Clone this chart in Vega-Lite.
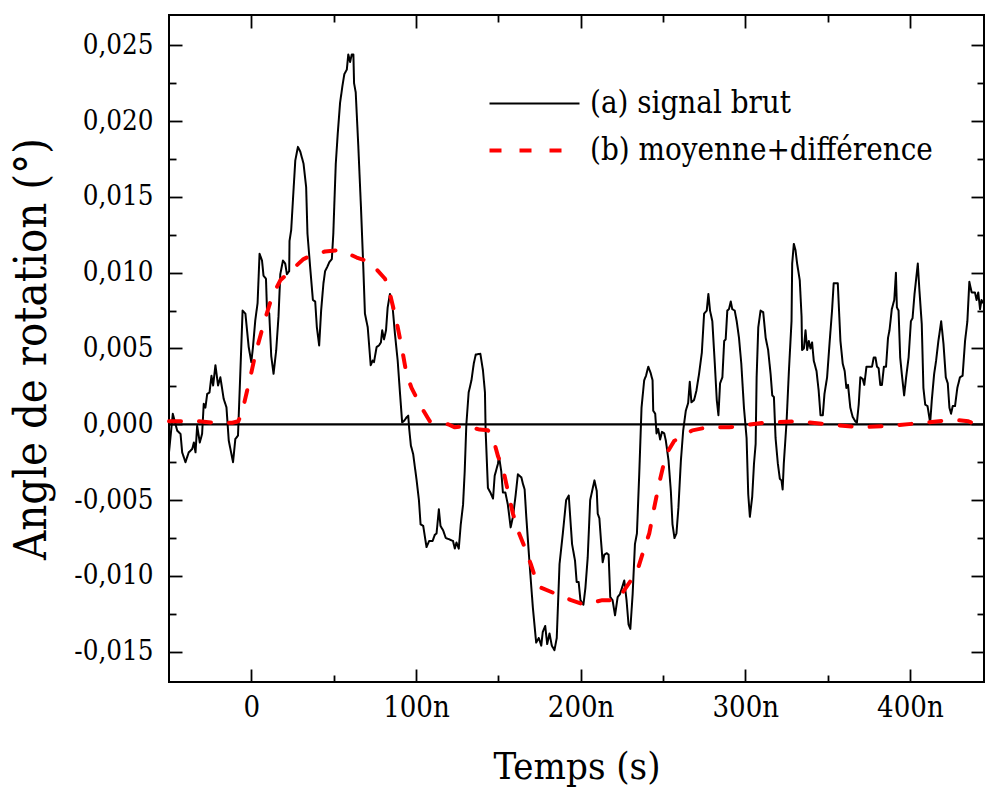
{
  "$schema": "https://vega.github.io/schema/vega-lite/v6.json",
  "width": 815,
  "height": 667,
  "autosize": {"type": "none"},
  "padding": {"left": 169, "top": 15, "right": 1, "bottom": 106},
  "background": "white",
  "config": {
    "view": {"stroke": "black", "strokeWidth": 2},
    "font": "DejaVu Serif Condensed, DejaVu Serif",
    "axis": {"grid": false, "domain": false, "tickColor": "black", "tickWidth": 1.8, "labelFont": "DejaVu Serif Condensed, DejaVu Serif", "labelColor": "black", "titleFont": "DejaVu Serif Condensed, DejaVu Serif", "titleColor": "black", "titleFontWeight": "normal", "labelOverlap": false, "labelFlush": false},
    "legend": {"labelFont": "DejaVu Serif Condensed, DejaVu Serif", "labelLimit": 0}
  },
  "datasets": {
    "a": [
      {"t":-50,"v":-0.00185},{"t":-47.7,"v":0.00069},{"t":-45.0,"v":-0.00042},{"t":-43.0,"v":-0.00063},{"t":-42.0,"v":-0.00185},{"t":-40.0,"v":-0.0025},{"t":-38.0,"v":-0.00185},{"t":-35.9,"v":-0.00163},{"t":-34.9,"v":-0.0012},{"t":-33.9,"v":-0.00185},{"t":-32.9,"v":-0.0001},{"t":-31.3,"v":-0.0012},{"t":-29.9,"v":-0.00063},{"t":-28.9,"v":0.00135},{"t":-27.9,"v":0.0011},{"t":-26.8,"v":0.002},{"t":-25.4,"v":0.0021},{"t":-24.2,"v":0.0032},{"t":-23.2,"v":0.00256},{"t":-21.8,"v":0.0039},{"t":-20.2,"v":0.00256},{"t":-18.8,"v":0.0031},{"t":-16.8,"v":0.00168},{"t":-15.1,"v":0.00112},{"t":-13.7,"v":-0.00108},{"t":-11.1,"v":-0.0025},{"t":-9.7,"v":-0.00096},{"t":-8.1,"v":-0.00075},{"t":-6.7,"v":0.00333},{"t":-5.3,"v":0.0075},{"t":-3.6,"v":0.0073},{"t":-1.6,"v":0.0051},{"t":0,"v":0.0041},{"t":1.0,"v":0.0051},{"t":2.4,"v":0.00685},{"t":3.8,"v":0.008},{"t":5.0,"v":0.01125},{"t":6.5,"v":0.0108},{"t":7.4,"v":0.0098},{"t":8.9,"v":0.0096},{"t":9.5,"v":0.0076},{"t":10.9,"v":0.0073},{"t":12.1,"v":0.0045},{"t":13.5,"v":0.00333},{"t":15.1,"v":0.00487},{"t":16.5,"v":0.0071},{"t":17.6,"v":0.0099},{"t":19.2,"v":0.0108},{"t":20.6,"v":0.0106},{"t":21.6,"v":0.0099},{"t":23.0,"v":0.0101},{"t":23.2,"v":0.0121},{"t":24.2,"v":0.0128},{"t":25.6,"v":0.0154},{"t":26.7,"v":0.0174},{"t":28.3,"v":0.0183},{"t":29.7,"v":0.018},{"t":31.7,"v":0.0172},{"t":33.3,"v":0.01565},{"t":34.1,"v":0.01258},{"t":35.7,"v":0.0104},{"t":37.4,"v":0.0082},{"t":38.8,"v":0.0081},{"t":39.8,"v":0.0064},{"t":41.2,"v":0.0052},{"t":42.4,"v":0.0075},{"t":43.8,"v":0.0093},{"t":44.8,"v":0.0101},{"t":46.2,"v":0.0104},{"t":47.4,"v":0.0107},{"t":48.9,"v":0.0109},{"t":49.8,"v":0.01258},{"t":50.5,"v":0.01478},{"t":51.3,"v":0.0172},{"t":52.5,"v":0.0192},{"t":53.9,"v":0.0212},{"t":55.3,"v":0.0223},{"t":56.5,"v":0.0231},{"t":58.0,"v":0.0234},{"t":58.9,"v":0.0244},{"t":60.0,"v":0.0239},{"t":61.0,"v":0.0244},{"t":62.0,"v":0.0244},{"t":62.4,"v":0.0225},{"t":63.4,"v":0.0219},{"t":65.0,"v":0.0183},{"t":66.6,"v":0.0143},{"t":68.0,"v":0.0104},{"t":69.0,"v":0.0073},{"t":70.7,"v":0.0064},{"t":72.5,"v":0.0039},{"t":73.7,"v":0.0042},{"t":74.5,"v":0.0041},{"t":76.1,"v":0.0051},{"t":77.5,"v":0.0052},{"t":78.7,"v":0.0054},{"t":79.5,"v":0.0062},{"t":80.6,"v":0.0056},{"t":81.8,"v":0.0062},{"t":82.8,"v":0.0077},{"t":84.2,"v":0.0086},{"t":85.6,"v":0.008},{"t":87.2,"v":0.006},{"t":88.9,"v":0.0042},{"t":90.2,"v":0.0022},{"t":91.6,"v":0.00013},{"t":92.9,"v":0.00024},{"t":94.3,"v":0.00046},{"t":95.3,"v":0.00057},{"t":95.9,"v":-0.0003},{"t":96.9,"v":-0.0014},{"t":98.3,"v":-0.00196},{"t":100.4,"v":-0.0037},{"t":101.8,"v":-0.005},{"t":102.8,"v":-0.0066},{"t":104.4,"v":-0.0067},{"t":106.4,"v":-0.0081},{"t":108.0,"v":-0.0077},{"t":110.1,"v":-0.0077},{"t":111.4,"v":-0.0073},{"t":112.5,"v":-0.0072},{"t":113.9,"v":-0.0056},{"t":114.9,"v":-0.0067},{"t":116.5,"v":-0.007},{"t":118.1,"v":-0.0075},{"t":120.5,"v":-0.0076},{"t":122.5,"v":-0.0077},{"t":123.6,"v":-0.0082},{"t":124.6,"v":-0.0078},{"t":126.0,"v":-0.0082},{"t":127.2,"v":-0.0066},{"t":128.6,"v":-0.0053},{"t":129.6,"v":-0.0031},{"t":130.6,"v":0},{"t":132.0,"v":0.0021},{"t":133.7,"v":0.0029},{"t":135.1,"v":0.004},{"t":136.3,"v":0.0046},{"t":139.1,"v":0.00465},{"t":140.7,"v":0.00355},{"t":141.9,"v":0.0021},{"t":142.3,"v":-0.0004},{"t":143.7,"v":-0.0042},{"t":145.2,"v":-0.0045},{"t":146.8,"v":-0.0049},{"t":147.8,"v":-0.0034},{"t":149.8,"v":-0.0026},{"t":150.4,"v":-0.0021},{"t":151.8,"v":-0.0031},{"t":152.8,"v":-0.0045},{"t":154.3,"v":-0.0045},{"t":155.8,"v":-0.0053},{"t":157.5,"v":-0.0068},{"t":158.9,"v":-0.0061},{"t":160.5,"v":-0.0047},{"t":161.9,"v":-0.0033},{"t":164.0,"v":-0.0035},{"t":164.9,"v":-0.0039},{"t":166.0,"v":-0.0043},{"t":167.0,"v":-0.0061},{"t":169.0,"v":-0.0092},{"t":171.0,"v":-0.0121},{"t":173.0,"v":-0.0144},{"t":174.6,"v":-0.0141},{"t":176.1,"v":-0.0146},{"t":177.0,"v":-0.0137},{"t":178.5,"v":-0.0133},{"t":179.7,"v":-0.0145},{"t":181.1,"v":-0.0138},{"t":182.5,"v":-0.0146},{"t":184.1,"v":-0.0149},{"t":185.5,"v":-0.0141},{"t":187.2,"v":-0.0092},{"t":189.2,"v":-0.0072},{"t":191.2,"v":-0.005},{"t":192.8,"v":-0.0047},{"t":194.8,"v":-0.0079},{"t":196.6,"v":-0.009},{"t":197.6,"v":-0.0104},{"t":198.8,"v":-0.0104},{"t":199.9,"v":-0.0116},{"t":201.7,"v":-0.0119},{"t":202.9,"v":-0.0108},{"t":204.3,"v":-0.0088},{"t":205.8,"v":-0.005},{"t":207.0,"v":-0.0044},{"t":208.4,"v":-0.0037},{"t":209.8,"v":-0.0044},{"t":210.4,"v":-0.0059},{"t":211.4,"v":-0.0062},{"t":212.4,"v":-0.0077},{"t":213.4,"v":-0.0091},{"t":214.4,"v":-0.0086},{"t":215.8,"v":-0.0085},{"t":217.0,"v":-0.0086},{"t":218.0,"v":-0.0114},{"t":219.4,"v":-0.0116},{"t":220.9,"v":-0.0126},{"t":222.5,"v":-0.0114},{"t":223.9,"v":-0.0112},{"t":225.1,"v":-0.0108},{"t":226.5,"v":-0.0103},{"t":227.9,"v":-0.0116},{"t":229.1,"v":-0.0132},{"t":230.2,"v":-0.0135},{"t":231.6,"v":-0.0112},{"t":233.0,"v":-0.0079},{"t":234.2,"v":-0.0072},{"t":235.6,"v":-0.0033},{"t":237.0,"v":0.0011},{"t":238.6,"v":0.0029},{"t":239.7,"v":0.0032},{"t":241.1,"v":0.0038},{"t":242.5,"v":0.0034},{"t":243.7,"v":0.0029},{"t":244.1,"v":0.0009},{"t":245.3,"v":0.0007},{"t":246.1,"v":-0.0006},{"t":247.1,"v":-0.0003},{"t":248.3,"v":-0.001},{"t":249.4,"v":-0.0005},{"t":250.8,"v":-0.0006},{"t":251.8,"v":-0.0011},{"t":253.4,"v":-0.0024},{"t":254.8,"v":-0.0044},{"t":255.8,"v":-0.0066},{"t":257.0,"v":-0.0075},{"t":258.2,"v":-0.0072},{"t":259.4,"v":-0.0055},{"t":260.9,"v":-0.0024},{"t":262.3,"v":-0.0004},{"t":263.9,"v":0.0009},{"t":265.3,"v":0.0014},{"t":266.3,"v":0.0028},{"t":267.3,"v":0.00145},{"t":268.9,"v":0.0016},{"t":270.3,"v":0.0022},{"t":271.9,"v":0.0033},{"t":273.6,"v":0.0047},{"t":275.0,"v":0.0073},{"t":276.6,"v":0.0075},{"t":277.6,"v":0.0086},{"t":278.6,"v":0.0075},{"t":280.0,"v":0.0068},{"t":281.5,"v":0.004},{"t":282.7,"v":0.0016},{"t":283.7,"v":0.0006},{"t":284.7,"v":0.0027},{"t":286.1,"v":0.0031},{"t":287.2,"v":0.0055},{"t":288.1,"v":0.0056},{"t":289.1,"v":0.0075},{"t":290.1,"v":0.0076},{"t":291.2,"v":0.0081},{"t":292.1,"v":0.0076},{"t":293.6,"v":0.0075},{"t":294.8,"v":0.0068},{"t":296.2,"v":0.0057},{"t":297.6,"v":0.004},{"t":299.2,"v":0.0011},{"t":300.8,"v":-0.0009},{"t":301.8,"v":-0.0046},{"t":302.8,"v":-0.0061},{"t":304.2,"v":-0.0048},{"t":305.3,"v":-0.0026},{"t":306.3,"v":-0.0013},{"t":306.9,"v":0.0031},{"t":307.9,"v":0.0064},{"t":309.3,"v":0.0075},{"t":310.9,"v":0.0074},{"t":312.4,"v":0.0057},{"t":313.9,"v":0.0049},{"t":315.4,"v":0.0033},{"t":316.4,"v":0.0019},{"t":317.4,"v":0.0018},{"t":318.4,"v":-0.0009},{"t":319.8,"v":-0.0026},{"t":321.0,"v":-0.0036},{"t":322.0,"v":-0.0037},{"t":322.7,"v":-0.0043},{"t":323.4,"v":-0.0026},{"t":325.1,"v":0.0002},{"t":326.5,"v":0.0035},{"t":328.1,"v":0.0068},{"t":328.5,"v":0.0106},{"t":329.5,"v":0.0119},{"t":330.5,"v":0.0115},{"t":331.5,"v":0.0106},{"t":333.1,"v":0.0095},{"t":334.2,"v":0.0071},{"t":334.5,"v":0.0049},{"t":335.6,"v":0.005},{"t":336.6,"v":0.0062},{"t":337.6,"v":0.0049},{"t":338.6,"v":0.0055},{"t":339.6,"v":0.005},{"t":340.6,"v":0.0054},{"t":341.6,"v":0.0042},{"t":343.3,"v":0.0035},{"t":344.6,"v":0.0022},{"t":345.7,"v":0.0006},{"t":347.1,"v":0.0006},{"t":348.1,"v":0.002},{"t":349.7,"v":0.0031},{"t":351.3,"v":0.0055},{"t":352.7,"v":0.0075},{"t":353.7,"v":0.0093},{"t":356.2,"v":0.0093},{"t":357.8,"v":0.0055},{"t":359.2,"v":0.004},{"t":360.4,"v":0.0035},{"t":361.4,"v":0.0024},{"t":362.4,"v":0.0026},{"t":363.8,"v":0.0011},{"t":365.2,"v":0.0005},{"t":366.8,"v":0.0002},{"t":367.8,"v":0.0001},{"t":368.9,"v":0.0013},{"t":369.9,"v":0.0031},{"t":371.3,"v":0.003},{"t":372.3,"v":0.0026},{"t":373.6,"v":0.0038},{"t":377.0,"v":0.0038},{"t":378.0,"v":0.0044},{"t":379.1,"v":0.0044},{"t":380.0,"v":0.0038},{"t":381.0,"v":0.0037},{"t":382.0,"v":0.0026},{"t":383.0,"v":0.0026},{"t":384.2,"v":0.0038},{"t":385.5,"v":0.0038},{"t":386.7,"v":0.0057},{"t":387.6,"v":0.0062},{"t":389.0,"v":0.0076},{"t":390.5,"v":0.0082},{"t":391.5,"v":0.01},{"t":392.1,"v":0.0077},{"t":393.1,"v":0.0075},{"t":394.1,"v":0.0044},{"t":395.1,"v":0.0033},{"t":396.5,"v":0.0019},{"t":397.7,"v":0.0031},{"t":399.2,"v":0.0044},{"t":400.6,"v":0.0068},{"t":401.6,"v":0.007},{"t":402.8,"v":0.0086},{"t":404.8,"v":0.0106},{"t":405.8,"v":0.0088},{"t":407.2,"v":0.0066},{"t":408.2,"v":0.0024},{"t":409.3,"v":0.0013},{"t":410.7,"v":0.0012},{"t":412.3,"v":0.0001},{"t":413.3,"v":0.0016},{"t":414.7,"v":0.0033},{"t":415.9,"v":0.0042},{"t":417.3,"v":0.0055},{"t":419.0,"v":0.0068},{"t":420.4,"v":0.0053},{"t":421.8,"v":0.0031},{"t":423.0,"v":0.0027},{"t":424.0,"v":0.0011},{"t":425.0,"v":0.0007},{"t":426.0,"v":0.0012},{"t":427.4,"v":0.0012},{"t":428.8,"v":0.0024},{"t":430.4,"v":0.0031},{"t":432.0,"v":0.0032},{"t":433.5,"v":0.0055},{"t":434.9,"v":0.0068},{"t":436.1,"v":0.0094},{"t":437.5,"v":0.0087},{"t":439.5,"v":0.0087},{"t":440.5,"v":0.0082},{"t":441.5,"v":0.0087},{"t":442.6,"v":0.0076},{"t":443.5,"v":0.0082},{"t":444.6,"v":0.008}
    ],
    "b": [
      {"t":-50,"v":0.0002},{"t":-32,"v":0.0002},{"t":-22,"v":0.0001},{"t":-11.5,"v":0.0001},{"t":-7.9,"v":0.0002},{"t":-5.6,"v":0.0008},{"t":-2.6,"v":0.0022},{"t":-0.6,"v":0.0031},{"t":2.4,"v":0.0046},{"t":7.4,"v":0.0066},{"t":12.5,"v":0.0084},{"t":17.6,"v":0.0095},{"t":24.7,"v":0.0102},{"t":31.7,"v":0.0109},{"t":33.7,"v":0.011},{"t":44.8,"v":0.0114},{"t":53.9,"v":0.0115},{"t":64.0,"v":0.011},{"t":72.1,"v":0.0107},{"t":81.2,"v":0.0096},{"t":84.2,"v":0.0086},{"t":88.2,"v":0.0068},{"t":91.3,"v":0.0051},{"t":94.3,"v":0.0033},{"t":97.3,"v":0.0024},{"t":103.4,"v":0.0011},{"t":108.4,"v":0.0002},{"t":119.5,"v":0},{"t":123.6,"v":-0.0002},{"t":129.6,"v":-0.0001},{"t":138.7,"v":-0.00035},{"t":143.7,"v":-0.0004},{"t":146.8,"v":-0.0009},{"t":149.8,"v":-0.0021},{"t":152.8,"v":-0.0029},{"t":155.8,"v":-0.0044},{"t":158.9,"v":-0.0059},{"t":161.9,"v":-0.007},{"t":166.0,"v":-0.0081},{"t":170.0,"v":-0.0093},{"t":174.1,"v":-0.0107},{"t":183.1,"v":-0.0111},{"t":194.2,"v":-0.0116},{"t":202.3,"v":-0.0119},{"t":213.2,"v":-0.0116},{"t":222.3,"v":-0.0116},{"t":230.6,"v":-0.0103},{"t":234.6,"v":-0.0096},{"t":238.6,"v":-0.0082},{"t":241.7,"v":-0.0072},{"t":244.7,"v":-0.0055},{"t":247.7,"v":-0.0039},{"t":251.8,"v":-0.002},{"t":256.8,"v":-0.0011},{"t":267.9,"v":-0.0004},{"t":277.0,"v":-0.0002},{"t":290.1,"v":-0.0002},{"t":311.3,"v":0.0001},{"t":331.1,"v":0.0002},{"t":350.6,"v":0},{"t":368.9,"v":-0.0002},{"t":388.2,"v":-0.0001},{"t":408.2,"v":0.0001},{"t":426.4,"v":0.0003},{"t":435.5,"v":0.0002},{"t":444.6,"v":-0.0002}
    ]
  },
  "layer": [
    {
      "data": {"values": [{}]},
      "mark": {"type": "rule", "color": "black", "strokeWidth": 2.2},
      "encoding": {"y": {"datum": 0, "type": "quantitative", "axis": null}}
    },
    {
      "data": {"name": "a"},
      "mark": {"type": "line", "strokeJoin": "round", "strokeCap": "round"},
      "encoding": {
        "x": {"field": "t", "type": "quantitative", "scale": {"domain": [-50, 445], "nice": false, "zero": false},
          "axis": {"orient": "bottom", "values": [0, 100, 200, 300, 400], "tickSize": -13, "labelPadding": 24, "labelFontSize": 29, "labelExpr": "datum.value == 0 ? '0' : format(datum.value, 'd') + 'n'", "title": "Temps (s)", "titleFontSize": 38, "titleX": 407.5, "titleY": 96, "titleBaseline": "alphabetic", "titleAlign": "center"}},
        "y": {"field": "v", "type": "quantitative", "scale": {"domain": [-0.017, 0.027], "nice": false, "zero": false},
          "axis": {"orient": "left", "values": [-0.015, -0.01, -0.005, 0, 0.005, 0.01, 0.015, 0.02, 0.025], "tickSize": -13, "labelPadding": 29, "labelFontSize": 27.5, "labelExpr": "(datum.value < -1e-9 ? '-' : '') + replace(format(abs(datum.value), '.3f'), '.', ',')", "title": "Angle de rotation (°)", "titleFontSize": 45, "titleAngle": -90, "titleX": -124, "titleY": 333.5, "titleBaseline": "alphabetic", "titleAlign": "center"}},
        "color": {"datum": "(a) signal brut", "scale": {"range": ["#000000", "#ff0000"]},
          "legend": {"title": null, "orient": "none", "legendX": 341, "legendY": 65, "symbolType": "M-2,0H2", "symbolSize": 2025, "labelFontSize": 31, "labelColor": "black", "labelOffset": 31, "labelLimit": 0, "rowPadding": 7, "padding": 0}},
        "strokeDash": {"datum": "(a) signal brut", "scale": {"range": [[1, 0], [12, 18]]},
          "legend": {"title": null, "orient": "none", "legendX": 341, "legendY": 65, "symbolType": "M-2,0H2", "symbolSize": 2025, "labelFontSize": 31, "labelColor": "black", "labelOffset": 31, "labelLimit": 0, "rowPadding": 7, "padding": 0}},
        "strokeWidth": {"datum": "(a) signal brut", "scale": {"range": [2, 4]},
          "legend": {"title": null, "orient": "none", "legendX": 341, "legendY": 65, "symbolType": "M-2,0H2", "symbolSize": 2025, "labelFontSize": 31, "labelColor": "black", "labelOffset": 31, "labelLimit": 0, "rowPadding": 7, "padding": 0}}
      }
    },
    {
      "data": {"name": "b"},
      "mark": {"type": "line", "strokeJoin": "round", "strokeCap": "round"},
      "encoding": {
        "x": {"field": "t", "type": "quantitative",
          "axis": {"orient": "bottom", "values": [50, 150, 250, 350], "tickSize": -7, "labels": false, "title": null}},
        "y": {"field": "v", "type": "quantitative",
          "axis": {"orient": "left", "values": [-0.0125, -0.0075, -0.0025, 0.0025, 0.0075, 0.0125, 0.0175, 0.0225], "tickSize": -7, "labels": false, "title": null}},
        "color": {"datum": "(b) moyenne+différence"},
        "strokeDash": {"datum": "(b) moyenne+différence"},
        "strokeWidth": {"datum": "(b) moyenne+différence"}
      }
    },
    {
      "data": {"name": "a"},
      "mark": {"type": "line", "opacity": 0},
      "encoding": {
        "x": {"field": "t", "type": "quantitative",
          "axis": {"orient": "top", "values": [0, 100, 200, 300, 400], "tickSize": -13, "labels": false, "title": null}},
        "y": {"field": "v", "type": "quantitative",
          "axis": {"orient": "right", "values": [-0.015, -0.01, -0.005, 0, 0.005, 0.01, 0.015, 0.02, 0.025], "tickSize": -13, "labels": false, "title": null}}
      }
    },
    {
      "data": {"name": "a"},
      "mark": {"type": "line", "opacity": 0},
      "encoding": {
        "x": {"field": "t", "type": "quantitative",
          "axis": {"orient": "top", "values": [50, 150, 250, 350], "tickSize": -7, "labels": false, "title": null}},
        "y": {"field": "v", "type": "quantitative",
          "axis": {"orient": "right", "values": [-0.0125, -0.0075, -0.0025, 0.0025, 0.0075, 0.0125, 0.0175, 0.0225], "tickSize": -7, "labels": false, "title": null}}
      }
    }
  ],
  "resolve": {"axis": {"x": "independent", "y": "independent"}}
}
